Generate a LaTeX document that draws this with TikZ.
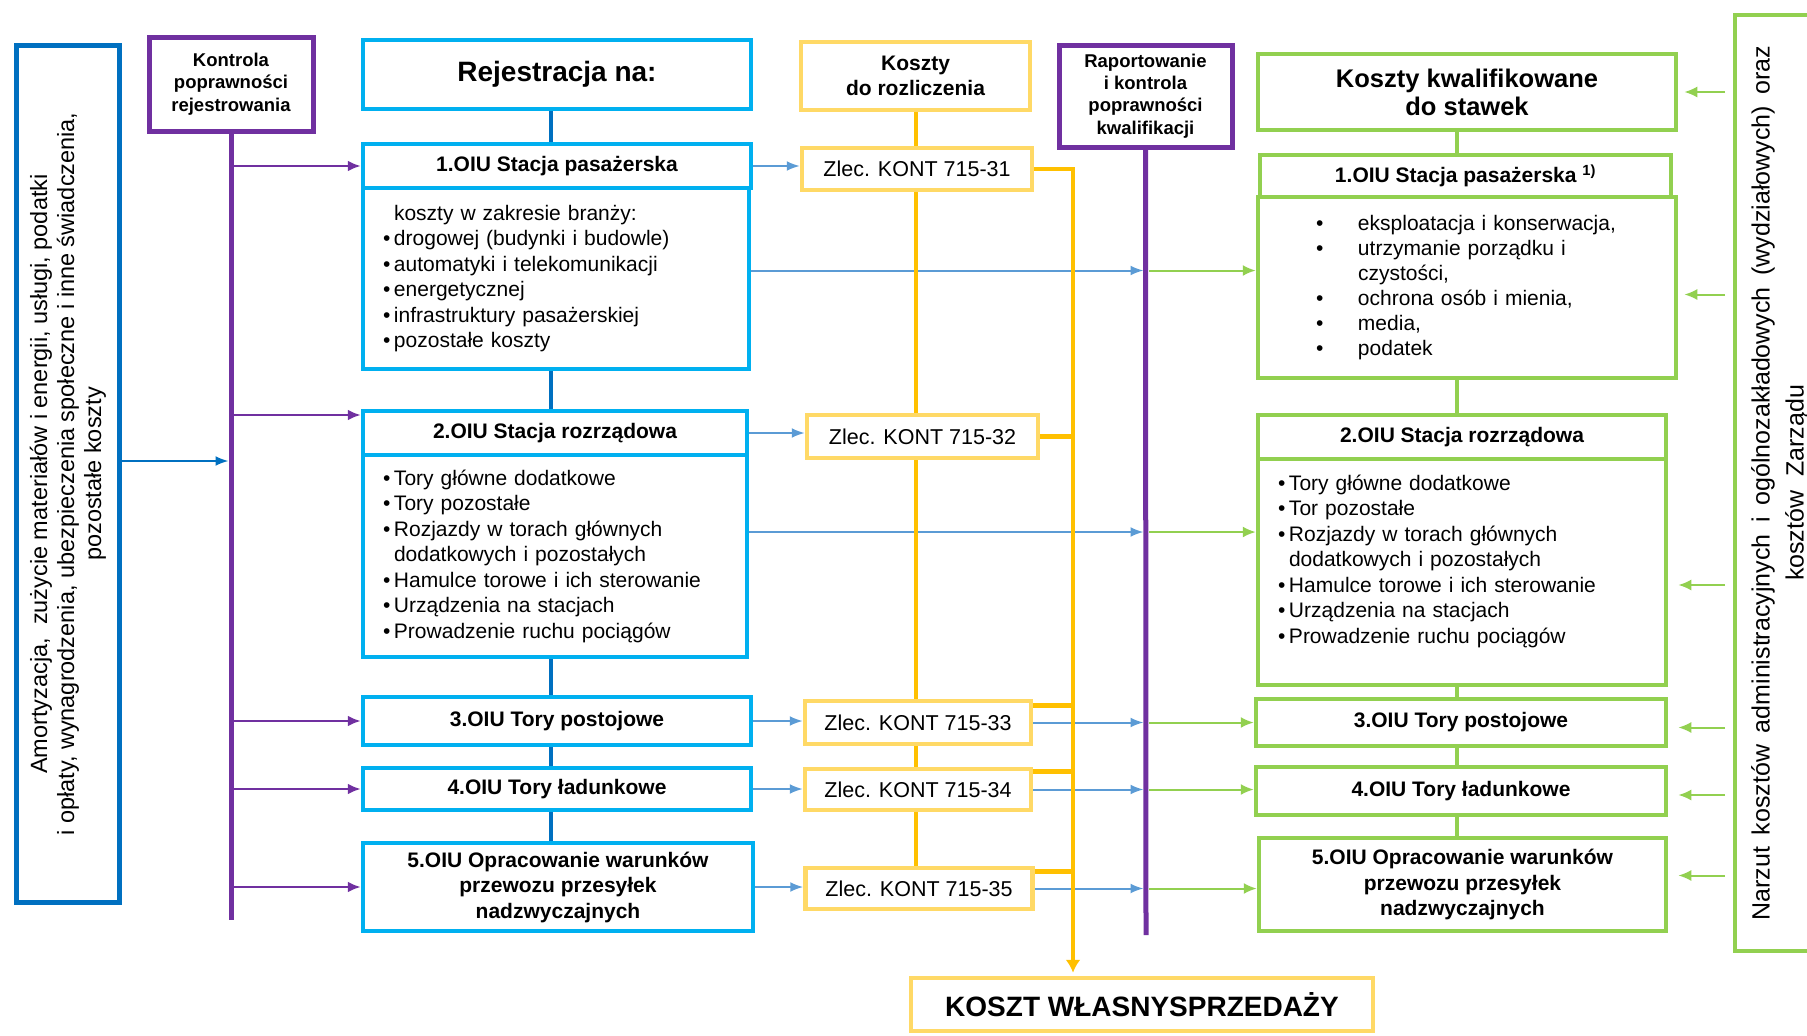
\documentclass[tikz,border=0pt]{standalone}
\usepackage{fontspec}
\setmainfont{Liberation Sans}
\usetikzlibrary{arrows.meta}
\usetikzlibrary{calc}

\definecolor{oiucyan}{HTML}{00B0F0}
\definecolor{regblue}{HTML}{0070C0}
\definecolor{arrblue}{HTML}{5B9BD5}
\definecolor{ctrlpurple}{HTML}{7030A0}
\definecolor{costyel}{HTML}{FFD966}
\definecolor{tieyel}{HTML}{FFC000}
\definecolor{qualgreen}{HTML}{92D050}

\newcommand{\pkt}{\makebox[11pt][l]{\textbullet}}
\newcommand{\gpkt}{\makebox[42pt][l]{\textbullet}}

\begin{document}
\begin{tikzpicture}[x=1pt, y=-1pt,
  every node/.style={inner sep=0pt, align=center, font=\fontsize{21}{25.5}\selectfont},
  regbox/.style={draw=oiucyan, line width=4.5pt, fill=white},
  costbox/.style={draw=costyel, line width=4.5pt, fill=white},
  ctrlbox/.style={draw=ctrlpurple, line width=5pt, fill=white},
  qualbox/.style={draw=qualgreen, line width=4.5pt, fill=white},
  headtxt/.style={font=\bfseries\fontsize{21}{25.5}\selectfont},
  zlectxt/.style={font=\fontsize{21.5}{25.5}\selectfont},
  bluetie/.style={draw=regblue, line width=4.5pt},
  yeltie/.style={draw=tieyel, line width=4.5pt},
  grntie/.style={draw=qualgreen, line width=4.5pt},
  ctrlline/.style={draw=ctrlpurple, line width=5pt},
  parr/.style={draw=ctrlpurple, line width=2.5pt, -{Latex[length=13pt,width=11pt]}},
  barr/.style={draw=arrblue, line width=2pt, -{Latex[length=13pt,width=10pt]}},
  garr/.style={draw=qualgreen, line width=2pt, -{Latex[length=13pt,width=11pt]}}]
\useasboundingbox (0,0) rectangle (1807,1036);

% koszty wejsciowe i kontrola
\node[draw=regblue, line width=5pt, fill=white, rotate=90, minimum width=857pt, minimum height=103pt, font=\fontsize{23.5}{27}\selectfont] (amort) at (68,474) {Amortyzacja,\ \ zużycie materiałów i energii, usługi, podatki\\i opłaty, wynagrodzenia, ubezpieczenia społeczne i inne świadczenia,\\pozostałe koszty};
\node[ctrlbox, minimum width=164pt, minimum height=94pt, font=\bfseries\fontsize{18.5}{22.5}\selectfont] (kontr) at (231,84) {Kontrola\\poprawności\\rejestrowania};
\coordinate (kbot) at (231,920);

% rejestracja
\node[regbox, minimum width=388pt, minimum height=69pt, font=\bfseries\fontsize{28}{32}\selectfont] (rej) at (557,74.5) {\raisebox{6pt}{Rejestracja na:}};
\node[regbox, minimum width=388pt, minimum height=44pt, headtxt] (r1h) at (557,166) {1.OIU Stacja pasażerska};
\node[regbox, text width=346pt, inner xsep=20pt, minimum height=181pt, align=left] (r1b) at (556,278.5) {\hspace*{11pt}koszty w zakresie branży:\\\pkt drogowej (budynki i budowle)\\\pkt automatyki i telekomunikacji\\\pkt energetycznej\\\pkt infrastruktury pasażerskiej\\\pkt pozostałe koszty};
\node[regbox, minimum width=384pt, minimum height=44pt, headtxt] (r2h) at (555,433) {2.OIU Stacja rozrządowa};
\node[regbox, text width=344pt, inner xsep=20pt, minimum height=202pt, align=left] (r2b) at (555,556) {\pkt Tory główne dodatkowe\\\pkt Tory pozostałe\\\pkt Rozjazdy w torach głównych\\\hspace*{11pt}dodatkowych i pozostałych\\\pkt Hamulce torowe i ich sterowanie\\\pkt Urządzenia na stacjach\\\pkt Prowadzenie ruchu pociągów};
\node[regbox, minimum width=388pt, minimum height=48pt, headtxt] (r3) at (557,721) {3.OIU Tory postojowe};
\node[regbox, minimum width=388pt, minimum height=42pt, headtxt] (r4) at (557,789) {4.OIU Tory ładunkowe};
\node[regbox, minimum width=390pt, minimum height=88pt, headtxt] (r5) at (558,887) {5.OIU Opracowanie warunków\\przewozu przesyłek\\nadzwyczajnych};
\coordinate (bcol) at (551,0);

% koszty do rozliczenia
\node[costbox, minimum width=229pt, minimum height=68pt, headtxt] (kosz) at (915.5,76) {Koszty\\do rozliczenia};
\node[costbox, minimum width=230pt, minimum height=42pt, zlectxt] (z31) at (917,169) {Zlec. KONT 715-31};
\node[costbox, minimum width=231pt, minimum height=43pt, zlectxt] (z32) at (922.5,436.5) {Zlec. KONT 715-32};
\node[costbox, minimum width=226pt, minimum height=43pt, zlectxt] (z33) at (918,722.5) {Zlec. KONT 715-33};
\node[costbox, minimum width=226pt, minimum height=41pt, zlectxt] (z34) at (918,789.5) {Zlec. KONT 715-34};
\node[costbox, minimum width=227pt, minimum height=41pt, zlectxt] (z35) at (919,888.5) {Zlec. KONT 715-35};
\node[costbox, minimum width=462pt, minimum height=53pt, font=\bfseries\fontsize{28}{31}\selectfont] (koszt) at (1142,1004.5) {KOSZT WŁASNYSPRZEDAŻY};
\coordinate (ycol) at (916,0);
\coordinate (ytop) at (1073,169);

% raportowanie
\node[ctrlbox, minimum width=173pt, minimum height=102pt, font=\bfseries\fontsize{18.5}{22.3}\selectfont] (rap) at (1145.5,96) {Raportowanie\\i kontrola\\poprawności\\kwalifikacji};
\coordinate (rbot) at (1146,935);

% koszty kwalifikowane
\node[qualbox, minimum width=418pt, minimum height=76pt, font=\bfseries\fontsize{25.5}{28}\selectfont] (kk) at (1467,92) {Koszty kwalifikowane\\do stawek};
\node[qualbox, minimum width=411pt, minimum height=42pt, headtxt] (g1h) at (1465.5,176) {1.OIU Stacja pasażerska \textsuperscript{1)}};
\node[qualbox, text width=302pt, inner xsep=58pt, minimum height=181pt, align=left, font=\fontsize{21}{25}\selectfont] (g1b) at (1467,287.5) {\gpkt eksploatacja i konserwacja,\\\gpkt utrzymanie porządku i\\\hspace*{42pt}czystości,\\\gpkt ochrona osób i mienia,\\\gpkt media,\\\gpkt podatek};
\node[qualbox, minimum width=408pt, minimum height=44pt, headtxt] (g2h) at (1462,437) {2.OIU Stacja rozrządowa};
\node[qualbox, text width=368pt, inner xsep=20pt, minimum height=226pt, align=left] (g2b) at (1462,572) {\pkt Tory główne dodatkowe\\\pkt Tor pozostałe\\\pkt Rozjazdy w torach głównych\\\hspace*{11pt}dodatkowych i pozostałych\\\pkt Hamulce torowe i ich sterowanie\\\pkt Urządzenia na stacjach\\\pkt Prowadzenie ruchu pociągów\\\mbox{}};
\node[qualbox, minimum width=410pt, minimum height=47pt, headtxt] (g3) at (1461,722.5) {3.OIU Tory postojowe};
\node[qualbox, minimum width=410pt, minimum height=48pt, headtxt] (g4) at (1461,791) {4.OIU Tory ładunkowe};
\node[qualbox, minimum width=407pt, minimum height=93pt, headtxt] (g5) at (1462.5,884.5) {5.OIU Opracowanie warunków\\przewozu przesyłek\\nadzwyczajnych};
\node[qualbox, rotate=90, minimum width=936pt, minimum height=90pt, font=\fontsize{25}{34}\selectfont] (narz) at (1780,483) {\makebox[875pt][s]{Narzut kosztów administracyjnych i ogólnozakładowych (wydziałowych) oraz}\\kosztów\ \ Zarządu};
\coordinate (gcol) at (1457,0);
\coordinate (nl) at (1725,0);

% strzalki kontroli rejestrowania
\draw[barr, draw=regblue, shorten >=2.5pt] ([yshift=13pt]amort.south) -- ([yshift=13pt]amort.south -| kbot);
\draw[parr] (kbot |- r1h) -- (r1h.west);
\draw[parr] ([yshift=18pt]kbot |- r2h) -- ([yshift=18pt]r2h.west);
\draw[parr] (kbot |- r3) -- (r3.west);
\draw[parr] (kbot |- r4) -- (r4.west);
\draw[parr] (kbot |- r5) -- (r5.west);

% rejestracja -> zlecenia
\draw[barr] (r1h.east) -- (r1h.east -| z31.west);
\draw[barr] (r2h.east) -- (r2h.east -| z32.west);
\draw[barr] (r3.east) -- (r3.east -| z33.west);
\draw[barr] (r4.east) -- (r4.east -| z34.west);
\draw[barr] (r5.east) -- (r5.east -| z35.west);

% do raportowania i dalej do stawek
\coordinate (p1) at ([yshift=8pt]r1b.east);
\coordinate (p2) at ([yshift=24pt]r2b.east);
\draw[barr, shorten >=2.5pt] (p1) -- (p1 -| rbot);
\draw[barr, shorten >=2.5pt] (p2) -- (p2 -| rbot);
\draw[barr, shorten >=2.5pt] (z33.east) -- (z33.east -| rbot);
\draw[barr, shorten >=2.5pt] (z34.east) -- (z34.east -| rbot);
\draw[barr, shorten >=2.5pt] (z35.east) -- (z35.east -| rbot);
\draw[garr, shorten <=3pt] (p1 -| rbot) -- (p1 -| g1b.west);
\draw[garr, shorten <=3pt] (p2 -| rbot) -- (p2 -| g2b.west);
\draw[garr, shorten <=3pt] (z33.east -| rbot) -- (z33.east -| g3.west);
\draw[garr, shorten <=3pt] (z34.east -| rbot) -- (z34.east -| g4.west);
\draw[garr, shorten <=3pt] (z35.east -| rbot) -- (z35.east -| g5.west);

% narzut
\draw[garr] (nl |- kk) -- ([xshift=6pt]kk.east);
\draw[garr] ([yshift=-7pt]nl |- g1b) -- ([yshift=-7pt,xshift=6pt]g1b.east);
\draw[garr] ([yshift=-13pt]nl |- g2b) -- ([yshift=-13pt,xshift=10pt]g2b.east);
\draw[garr] ([yshift=-5pt]nl |- g3) -- ([yshift=-5pt,xshift=10pt]g3.east);
\draw[garr] ([yshift=-4pt]nl |- g4) -- ([yshift=-4pt,xshift=10pt]g4.east);
\draw[garr] ([yshift=9pt]nl |- g5) -- ([yshift=9pt,xshift=10pt]g5.east);

% polaczenia pionowe
\draw[bluetie] (bcol |- rej.south) -- (bcol |- r1h.north);
\draw[bluetie] (bcol |- r1b.south) -- (bcol |- r2h.north);
\draw[bluetie] (bcol |- r2b.south) -- (bcol |- r3.north);
\draw[bluetie] (bcol |- r3.south) -- (bcol |- r4.north);
\draw[bluetie] (bcol |- r4.south) -- (bcol |- r5.north);
\draw[yeltie] (ycol |- kosz.south) -- (ycol |- z31.north);
\draw[yeltie] (ycol |- z31.south) -- (ycol |- z32.north);
\draw[yeltie] (ycol |- z32.south) -- (ycol |- z33.north);
\draw[yeltie] (ycol |- z33.south) -- (ycol |- z34.north);
\draw[yeltie] (ycol |- z34.south) -- (ycol |- z35.north);
\draw[grntie] (gcol |- kk.south) -- (gcol |- g1h.north);
\draw[grntie] (gcol |- g1b.south) -- (gcol |- g2h.north);
\draw[grntie] (gcol |- g2b.south) -- (gcol |- g3.north);
\draw[grntie] (gcol |- g3.south) -- (gcol |- g4.north);
\draw[grntie] (gcol |- g4.south) -- (gcol |- g5.north);

% zbiorcza linia kosztow
\draw[yeltie, -{Latex[length=13pt,width=15pt]}, shorten >=3pt] (z31.east) -- (ytop) -- (ytop |- koszt.north);
\draw[yeltie] (z32.east) -- (z32.east -| ytop);
\draw[yeltie] ([yshift=17pt]z33.east) -- ([yshift=17pt]z33.east -| ytop);
\draw[yeltie] ([yshift=18pt]z34.east) -- ([yshift=18pt]z34.east -| ytop);
\draw[yeltie] ([yshift=17pt]z35.east) -- ([yshift=17pt]z35.east -| ytop);

% linie kontroli
\draw[ctrlline] (kontr.south) -- (kbot);
\draw[ctrlline] (rap.south) -- (rbot);
\end{tikzpicture}
\end{document}
